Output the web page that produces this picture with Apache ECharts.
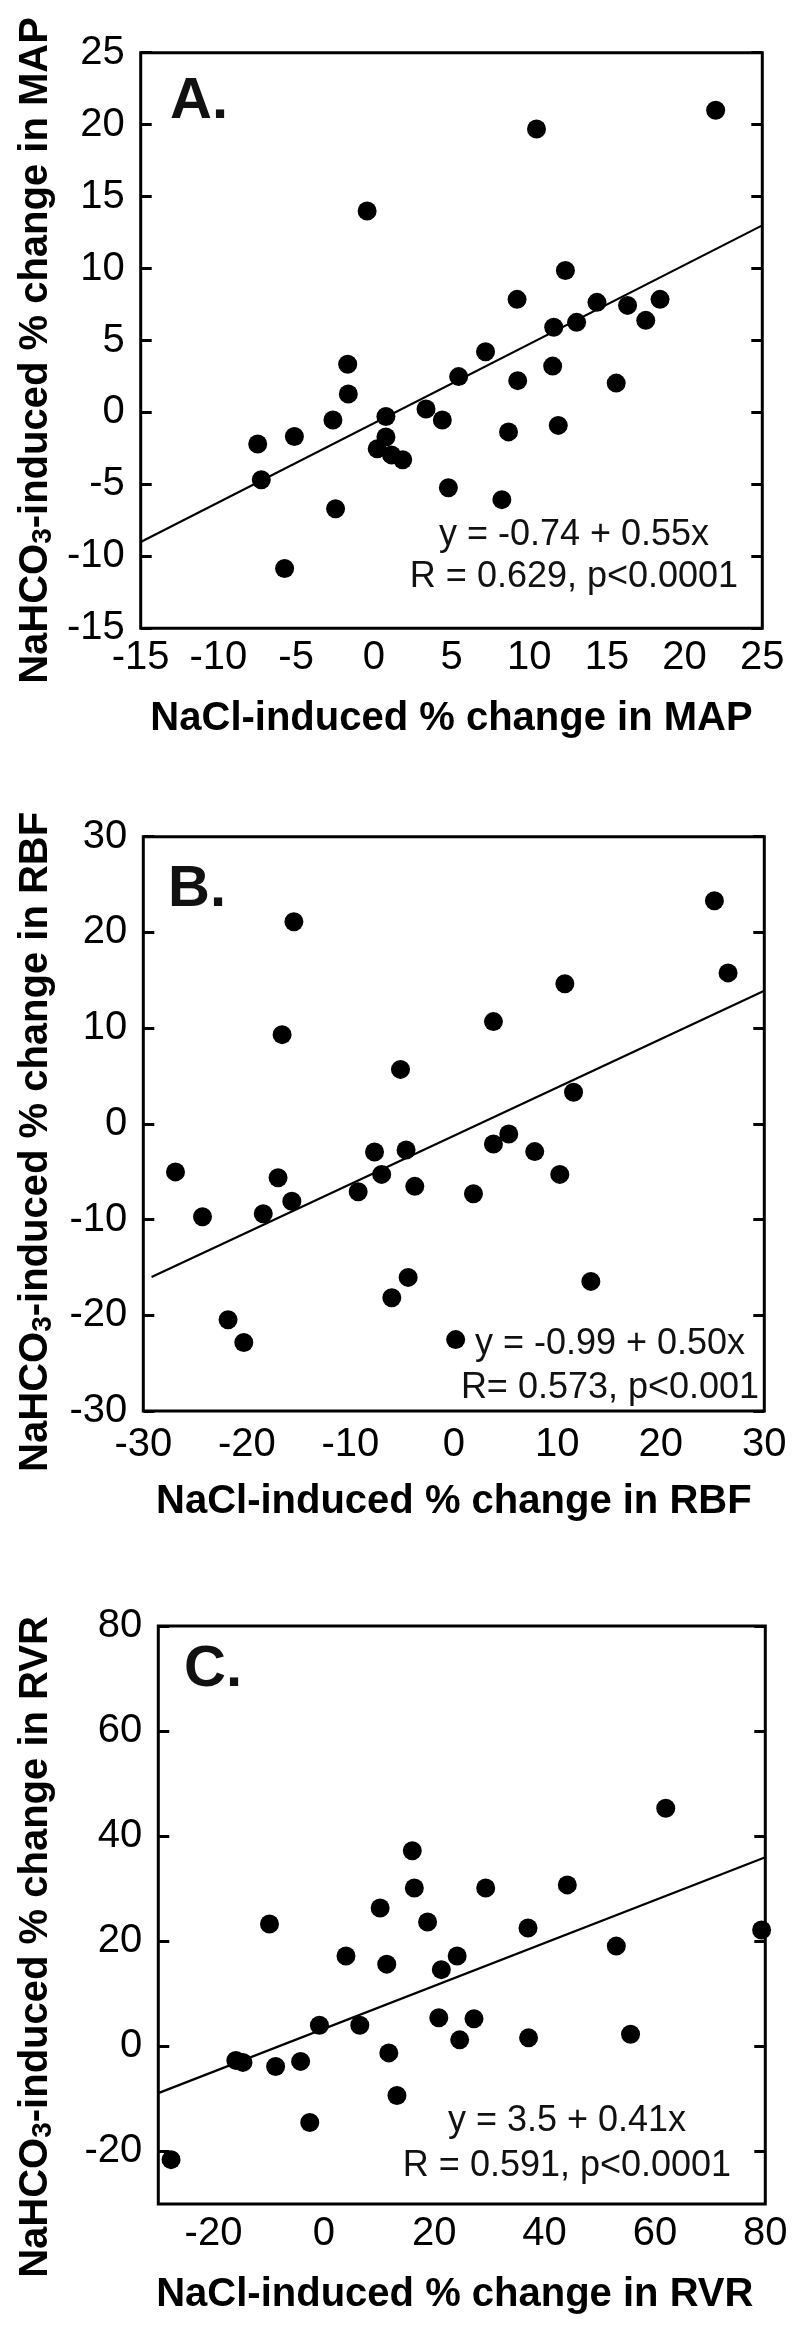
<!DOCTYPE html>
<html>
<head>
<meta charset="utf-8">
<script src="https://cdn.jsdelivr.net/npm/echarts@6/dist/echarts.min.js"></script>
<style>
  html, body { margin: 0; padding: 0; background: #fff; }
  #chart { width: 800px; height: 2326px; }
</style>
</head>
<body>
<div id="chart"></div>
<script>
// ---------- Data ----------
// Panel A: MAP
const mapNaCl   = [22.0, 10.47, -0.43, 12.33, 9.22, 14.36, 16.33, 18.42, 17.5, 11.58, 13.05, 7.19, -1.68, 11.51, 5.46, 9.26, 15.6, -1.64, 3.36, 0.78, -2.63, 4.41, 11.87, 8.67, -5.11, 0.78, -7.47, 0.22, 1.14, 1.86, -7.24, 4.8, 8.24, -2.46, -5.74];
const mapNaHCO3 = [21.0, 19.7, 14.0, 9.87, 7.86, 7.65, 7.44, 7.86, 6.4, 5.92, 6.26, 4.22, 3.35, 3.22, 2.49, 2.21, 2.04, 1.28, 0.24, -0.28, -0.52, -0.52, -0.9, -1.35, -1.67, -1.7, -2.19, -2.53, -2.95, -3.29, -4.68, -5.23, -6.06, -6.69, -10.84];
const mapFitX = [-15, 25];
const mapFitY = [-9.0, 13.0];

// Panel B: RBF
const rbfNaCl   = [25.18, 26.5, -15.45, 10.73, 3.83, -16.59, -5.15, 11.57, 5.31, 3.83, -7.66, -4.61, 7.82, -26.89, -16.98, -6.97, 10.24, -3.77, -9.24, 1.9, -15.65, -18.41, -24.28, -4.41, 13.24, -5.99, -21.81, -20.29, 0.18];
const rbfNaHCO3 = [23.3, 15.77, 21.12, 14.63, 10.68, 9.32, 5.69, 3.3, -1.07, -2.11, -2.94, -2.73, -2.9, -5.02, -5.64, -5.28, -5.28, -6.53, -7.1, -7.31, -8.09, -9.39, -9.7, -16.04, -16.46, -18.17, -20.46, -22.85, -22.54];
const rbfFitX = [-29.2, 30];
const rbfFitY = [-16.0, 13.9];

// Panel C: RVR
const rvrNaCl   = [61.96, 16.03, 16.4, 29.33, 44.12, 10.2, -9.85, 18.8, 37.0, 79.33, 53.0, 4.01, 24.16, 11.4, 21.29, 20.83, 27.21, -0.8, 6.51, 55.58, 37.1, 24.62, 11.77, -15.95, -14.66, -4.21, -8.74, 13.25, -2.55, -27.69];
const rvrNaHCO3 = [45.32, 37.21, 30.15, 30.15, 30.73, 26.34, 23.28, 23.66, 22.52, 22.14, 19.08, 17.18, 17.18, 15.65, 14.6, 5.44, 5.25, 4.01, 4.01, 2.29, 1.62, 1.24, -1.24, -2.67, -3.05, -2.86, -3.82, -9.35, -14.5, -21.56];
const rvrFitX = [-30, 80];
const rvrFitY = [-8.9, 36.0];

// Tick labels
const mapXTicks = [-15, -10, -5, 0, 5, 10, 15, 20, 25];
const mapYTicks = [-15, -10, -5, 0, 5, 10, 15, 20, 25];
const rbfXTicks = [-30, -20, -10, 0, 10, 20, 30];
const rbfYTicks = [-30, -20, -10, 0, 10, 20, 30];
const rvrXTicks = [-20, 0, 20, 40, 60, 80];
const rvrYTicks = [-20, 0, 20, 40, 60, 80];

// Texts
const panelLetters = ['A.', 'B.', 'C.'];
const xNames = ['NaCl-induced % change in MAP', 'NaCl-induced % change in RBF', 'NaCl-induced % change in RVR'];
const yNameTails = ['-induced % change in MAP', '-induced % change in RBF', '-induced % change in RVR'];
const eqLines = [
  ['y = -0.74 + 0.55x', 'R = 0.629, p<0.0001'],
  ['y = -0.99 + 0.50x', 'R= 0.573, p<0.001'],
  ['y = 3.5 + 0.41x', 'R = 0.591, p<0.0001']
];

// ---------- Layout ----------
const FONT = "'Liberation Sans', Arial, Helvetica, sans-serif";
const layout = [
  { grid: { left: 140.7, top: 52.7, width: 621.6, height: 575.6 }, xr: [-15, 25], yr: [-15, 25],
    xT: mapXTicks, yT: mapYTicks, xLabMargin: 10, yNameGap: 83, yNameShift: 10, xNameShift: 0,
    letter: { left: 170, top: 73 }, eq: { x: 574, y1: 535, y2: 577 } },
  { grid: { left: 143.3, top: 836.7, width: 621.0, height: 574.3 }, xr: [-30, 30], yr: [-30, 30],
    xT: rbfXTicks, yT: rbfYTicks, xLabMargin: 14, yNameGap: 85.6, yNameShift: 18, xNameShift: 0,
    letter: { left: 168, top: 861 }, eq: { x: 610, y1: 1344.5, y2: 1388 } },
  { grid: { left: 158.3, top: 1626, width: 607.0, height: 578 }, xr: [-30, 80], yr: [-30, 80],
    xT: rvrXTicks, yT: rvrYTicks, xLabMargin: 10, yNameGap: 100.6, yNameShift: 32, xNameShift: 7,
    letter: { left: 184, top: 1641 }, eq: { x: 567, y1: 2121.5, y2: 2165.6 } }
];
const pts = [
  [mapNaCl, mapNaHCO3, mapFitX, mapFitY],
  [rbfNaCl, rbfNaHCO3, rbfFitX, rbfFitY],
  [rvrNaCl, rvrNaHCO3, rvrFitX, rvrFitY]
];

const grids = [], xAxes = [], yAxes = [], series = [], titles = [], graphics = [];
layout.forEach((L, i) => {
  grids.push(Object.assign({ show: true, borderColor: '#000', borderWidth: 3, backgroundColor: 'transparent',
    containLabel: false, outerBoundsMode: 'none' }, L.grid));
  xAxes.push({
    gridIndex: i, type: 'value', position: 'bottom', min: L.xr[0], max: L.xr[1],
    splitLine: { show: false }, axisLine: { show: false, onZero: false },
    axisTick: { show: false, customValues: L.xT },
    axisLabel: { customValues: L.xT, color: '#000', fontFamily: FONT, fontSize: 40, margin: L.xLabMargin },
    name: xNames[i], nameLocation: 'middle', nameGap: 71, nameMoveOverlap: false,
    nameTextStyle: { color: '#000', fontFamily: FONT, fontWeight: 'bold', fontSize: 40,
      padding: [0, 2 * L.xNameShift, 0, 0] }
  });
  yAxes.push({
    gridIndex: i, type: 'value', position: 'left', min: L.yr[0], max: L.yr[1],
    splitLine: { show: false }, axisLine: { show: false, onZero: false },
    axisTick: { show: true, inside: true, length: 11, customValues: L.yT, lineStyle: { color: '#000', width: 3 } },
    axisLabel: { customValues: L.yT, color: '#000', fontFamily: FONT, fontSize: 40, margin: 16 },
    name: '{a|NaHCO}{s|3}{a|' + yNameTails[i] + '}',
    nameLocation: 'middle', nameRotate: 90, nameGap: L.yNameGap, nameMoveOverlap: false,
    nameTextStyle: {
      color: '#000', fontFamily: FONT, fontWeight: 'bold', fontSize: 40,
      padding: [0, 2 * L.yNameShift, 0, 0],
      rich: {
        a: { color: '#000', fontFamily: FONT, fontWeight: 'bold', fontSize: 40, lineHeight: 44, verticalAlign: 'middle' },
        s: { color: '#000', fontFamily: FONT, fontWeight: 'bold', fontSize: 28, lineHeight: 28, verticalAlign: 'bottom' }
      }
    }
  });
  yAxes.push({
    gridIndex: i, type: 'value', position: 'right', min: L.yr[0], max: L.yr[1],
    splitLine: { show: false }, axisLine: { show: false, onZero: false },
    axisTick: { show: true, inside: true, length: 11, customValues: L.yT, lineStyle: { color: '#000', width: 3 } },
    axisLabel: { show: false }
  });
  const [xs, ys, fx, fy] = pts[i];
  series.push({
    type: 'scatter', xAxisIndex: i, yAxisIndex: 2 * i, symbol: 'circle', symbolSize: 19,
    itemStyle: { color: '#000', opacity: 1 }, clip: false, z: 3,
    data: xs.map((x, k) => [x, ys[k]])
  });
  series.push({
    type: 'line', xAxisIndex: i, yAxisIndex: 2 * i, symbol: 'none', silent: true, z: 2,
    lineStyle: { color: '#000', width: 2.2, opacity: 1 },
    data: fx.map((x, k) => [x, fy[k]])
  });
  titles.push({
    text: panelLetters[i], left: L.letter.left, top: L.letter.top, padding: 0,
    textStyle: { color: '#111', fontFamily: FONT, fontWeight: 'bold', fontSize: 58 }
  });
  eqLines[i].forEach((t, k) => {
    graphics.push({
      type: 'text', x: L.eq.x, y: k === 0 ? L.eq.y1 : L.eq.y2, z: 10,
      style: { text: t, fill: '#111', fontFamily: FONT, fontSize: 36, fontWeight: 'normal',
        align: 'center', verticalAlign: 'middle' }
    });
  });
});

const chart = echarts.init(document.getElementById('chart'), null, { renderer: 'canvas' });
chart.setOption({
  animation: false,
  backgroundColor: '#fff',
  title: titles,
  grid: grids,
  xAxis: xAxes,
  yAxis: yAxes,
  series: series,
  graphic: graphics
});
</script>
</body>
</html>
